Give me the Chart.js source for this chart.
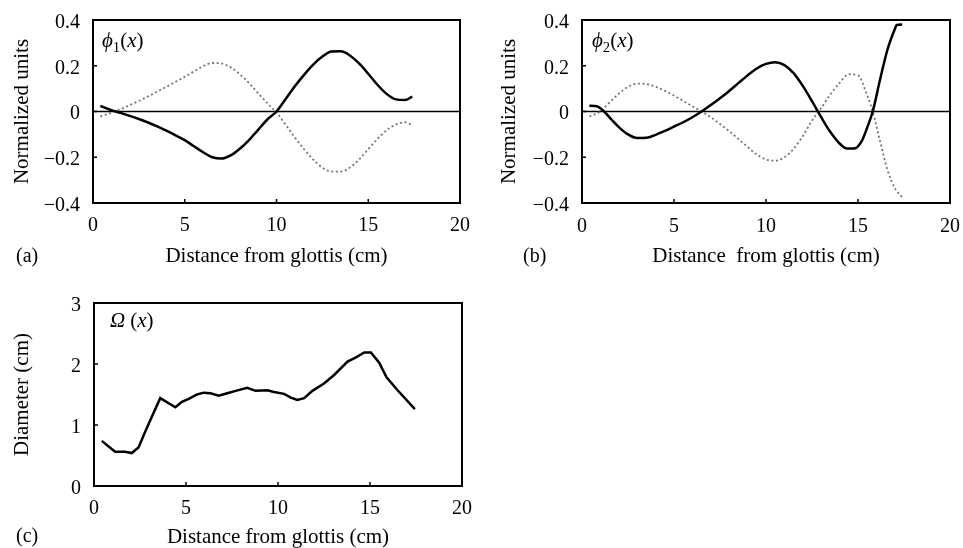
<!DOCTYPE html>
<html>
<head>
<meta charset="utf-8">
<script src="https://cdn.jsdelivr.net/npm/chart.js@4.4.1/dist/chart.umd.min.js"></script>
<style>
html,body{margin:0;padding:0;background:#fff;}
body{width:963px;height:548px;position:relative;overflow:hidden;}
canvas{position:absolute;}
</style>
</head>
<body>
<canvas id="ca" width="490" height="270" style="left:0;top:0"></canvas>
<canvas id="cb" width="500" height="270" style="left:480px;top:0"></canvas>
<canvas id="cc" width="490" height="278" style="left:0;top:270px"></canvas>
<script>
// x ticks shared by all panels
let xTicks = [0, 5, 10, 15, 20];
let xTickLabels = ["0", "5", "10", "15", "20"];
let phiTicks = [-0.4, -0.2, 0, 0.2, 0.4];
let phiTickLabels = ["\u22120.4", "\u22120.2", "0", "0.2", "0.4"];
let omegaTicks = [0, 1, 2, 3];
let omegaTickLabels = ["0", "1", "2", "3"];

// (a) phi1
let phi1X = [0.4, 1, 1.5, 2, 2.5, 3, 3.5, 4, 4.5, 5, 5.5, 6, 6.5, 7, 7.5, 8, 8.5, 9, 9.5, 10, 10.5, 11, 11.5, 12, 12.5, 13, 13.5, 14, 14.5, 15, 15.5, 16, 16.5, 17, 17.4];
let phi1Solid = [0.024, 0.006, -0.006, -0.019, -0.033, -0.048, -0.065, -0.084, -0.104, -0.125, -0.152, -0.178, -0.2, -0.206, -0.192, -0.163, -0.125, -0.08, -0.035, 0.0, 0.055, 0.11, 0.16, 0.205, 0.24, 0.262, 0.263, 0.245, 0.21, 0.165, 0.117, 0.077, 0.053, 0.05, 0.065];
let phi1Dot = [-0.022, -0.005, 0.01, 0.028, 0.046, 0.066, 0.087, 0.108, 0.13, 0.152, 0.175, 0.198, 0.212, 0.21, 0.193, 0.163, 0.124, 0.08, 0.037, -0.005, -0.058, -0.113, -0.165, -0.21, -0.245, -0.263, -0.263, -0.245, -0.21, -0.165, -0.12, -0.082, -0.057, -0.047, -0.06];

// (b) phi2
let phi2SolidX = [0.4, 0.8, 1.2, 1.6, 2, 2.5, 3, 3.5, 4, 4.5, 5, 5.5, 6, 6.5, 7, 7.5, 8, 8.5, 9, 9.5, 10, 10.5, 11, 11.5, 12, 12.5, 13, 13.5, 14, 14.4, 14.8, 15.2, 15.5, 15.8, 16.2, 16.6, 17, 17.1, 17.4];
let phi2Solid = [0.025, 0.023, 0.0, -0.035, -0.068, -0.1, -0.116, -0.115, -0.102, -0.085, -0.066, -0.047, -0.025, 0.0, 0.028, 0.058, 0.09, 0.124, 0.158, 0.188, 0.208, 0.215, 0.203, 0.168, 0.112, 0.045, -0.025, -0.09, -0.14, -0.162, -0.162, -0.13, -0.07, 0.0, 0.14, 0.27, 0.36, 0.378, 0.38];
let phi2DotX = [0.4, 1, 1.5, 2, 2.5, 3, 3.5, 4, 4.5, 5, 5.5, 6, 6.5, 7, 7.5, 8, 8.5, 9, 9.5, 10, 10.5, 11, 11.5, 12, 12.5, 13, 13.5, 14, 14.5, 15, 15.5, 15.8, 16.2, 16.6, 17, 17.4];
let phi2Dot = [-0.022, 0.0, 0.04, 0.078, 0.108, 0.122, 0.12, 0.108, 0.09, 0.07, 0.046, 0.023, 0.0, -0.025, -0.055, -0.086, -0.12, -0.155, -0.188, -0.21, -0.215, -0.2, -0.163, -0.108, -0.04, 0.015, 0.075, 0.125, 0.163, 0.158, 0.07, 0.0, -0.13, -0.255, -0.335, -0.375];

// (c) omega
let omegaX = [0.42, 1.15, 1.69, 2.05, 2.42, 2.78, 3.15, 3.6, 4.42, 4.78, 5.15, 5.6, 5.96, 6.33, 6.78, 7.24, 7.7, 8.33, 8.78, 9.42, 9.78, 10.33, 10.7, 11.05, 11.42, 11.87, 12.5, 13.05, 13.78, 14.24, 14.69, 15.05, 15.5, 15.9, 16.5, 17.44];
let omega = [0.74, 0.56, 0.56, 0.54, 0.63, 0.89, 1.14, 1.44, 1.29, 1.38, 1.43, 1.50, 1.53, 1.52, 1.48, 1.52, 1.56, 1.61, 1.56, 1.57, 1.54, 1.51, 1.45, 1.41, 1.44, 1.56, 1.68, 1.82, 2.04, 2.11, 2.19, 2.19, 2.02, 1.78, 1.57, 1.26];

const serif = '"Liberation Serif", "Times New Roman", serif';

function pts(xs, ys){
return xs.map((x, i) => ({x: x, y: ys[i]}));
}

function drawRich(ctx, x, y, parts, size){
parts.forEach(p => {
let s = p.sub ? size * 0.7 : size;
ctx.font = (p.it ? "italic " : "") + s + "px " + serif;
ctx.fillText(p.t, x, y + (p.sub ? size * 0.22 : 0));
x += ctx.measureText(p.t).width + (p.gap || 0);
});
}

// box, inner ticks, zero line, panel letter and curve name
const framePlugin = {
id: "frame",
beforeDatasetsDraw(chart, args, o){
if(!o.zero) return;
let a = chart.chartArea, y = chart.scales.y.getPixelForValue(0);
let ctx = chart.ctx;
ctx.save();
ctx.strokeStyle = "#000";
ctx.lineWidth = 1.5;
ctx.beginPath();
ctx.moveTo(a.left, y);
ctx.lineTo(a.right, y);
ctx.stroke();
ctx.restore();
},
afterDraw(chart, args, o){
let ctx = chart.ctx, a = chart.chartArea;
let sx = chart.scales.x, sy = chart.scales.y;
ctx.save();
ctx.strokeStyle = "#000";
ctx.lineWidth = 1.5;
ctx.beginPath();
xTicks.slice(1, -1).forEach(v => {
let px = sx.getPixelForValue(v);
ctx.moveTo(px, a.bottom);
ctx.lineTo(px, a.bottom - 4);
});
o.yTicks.slice(1, -1).forEach(v => {
let py = sy.getPixelForValue(v);
ctx.moveTo(a.left, py);
ctx.lineTo(a.left + 4, py);
});
ctx.stroke();
ctx.lineWidth = 2;
ctx.strokeRect(a.left, a.top, a.right - a.left, a.bottom - a.top);
ctx.fillStyle = "#000";
ctx.textBaseline = "middle";
ctx.textAlign = "left";
ctx.font = "20px " + serif;
ctx.fillText(o.letter, o.lx, o.ly);
ctx.textBaseline = "alphabetic";
drawRich(ctx, a.left + o.ax, a.top + o.ay, o.name, 21);
ctx.restore();
}
};

function makeChart(id, cfg){
let titleFont = {family: serif, size: 21, lineHeight: 1};
cfg.xh = 67;
cfg.yw = cfg.area.left;
let chart = new Chart(document.getElementById(id), {
type: "line",
data: {datasets: cfg.datasets},
plugins: [framePlugin],
options: {
responsive: false,
animation: false,
events: [],
layout: {padding: {top: cfg.area.top, right: 10, left: 0, bottom: 0}},
plugins: {
legend: {display: false},
tooltip: {enabled: false},
frame: cfg.frame
},
scales: {
x: {
type: "linear",
min: 0,
max: 20,
afterBuildTicks: s => { s.ticks = xTicks.map(v => ({value: v})); },
afterFit: s => { s.height = cfg.xh; },
grid: {display: false, drawTicks: false},
border: {display: false},
ticks: {
color: "#000",
font: {family: serif, size: 20},
padding: cfg.xpad,
maxRotation: 0,
callback: v => xTickLabels[xTicks.indexOf(v)]
},
title: {display: true, text: cfg.xTitle, color: "#000", font: titleFont, padding: {top: 0, bottom: cfg.xtp}}
},
y: {
type: "linear",
min: cfg.yTicks[0],
max: cfg.yTicks[cfg.yTicks.length - 1],
afterBuildTicks: s => { s.ticks = cfg.yTicks.map(v => ({value: v})); },
afterFit: s => { s.width = cfg.yw; },
grid: {display: false, drawTicks: false},
border: {display: false},
ticks: {
color: "#000",
// empty first line drops the label a few px, as in the figure
font: {family: serif, size: 20, lineHeight: 0.25},
padding: 13,
callback: (v, i) => ["", cfg.yLabels[i]]
},
title: {display: true, text: cfg.yTitle, color: "#000", font: titleFont, padding: {top: cfg.ytp, bottom: 0}}
}
}
}
});
// nudge the layout so the plot box lands where it sits in the figure
let pad = {top: cfg.area.top, right: 10};
for(let k = 0; k < 5; k++){
let a = chart.chartArea;
pad.top += cfg.area.top - a.top;
pad.right += a.right - cfg.area.right;
cfg.yw += cfg.area.left - a.left;
cfg.xh += a.bottom - cfg.area.bottom;
chart.options.layout.padding = {top: pad.top, right: pad.right, left: 0, bottom: 0};
chart.update();
}
return chart;
}

function solidSet(data, smooth){
return {data: data, borderColor: "#000", borderWidth: 2.5, pointRadius: 0, fill: false,
tension: smooth ? 0.4 : 0, cubicInterpolationMode: smooth ? "monotone" : "default", order: 1};
}
function dotSet(data){
return {data: data, borderColor: "#757575", borderWidth: 1.8, borderDash: [2, 2.6], pointRadius: 0, fill: false,
tension: 0.4, cubicInterpolationMode: "monotone", order: 2};
}

makeChart("ca", {
datasets: [solidSet(pts(phi1X, phi1Solid), true), dotSet(pts(phi1X, phi1Dot))],
area: {left: 93, top: 20, right: 460, bottom: 203},
xpad: 10.5, xtp: 3.5, ytp: 11.5,
yTicks: phiTicks, yLabels: phiTickLabels,
xTitle: "Distance from glottis (cm)", yTitle: "Normalized units",
frame: {zero: true, yTicks: phiTicks, letter: "(a)", lx: 16, ly: 257, ax: 9, ay: 27,
name: [{t: "\u03d5", it: true}, {t: "1", sub: true}, {t: "("}, {t: "x", it: true}, {t: ")"}]}
});

makeChart("cb", {
datasets: [solidSet(pts(phi2SolidX, phi2Solid), true), dotSet(pts(phi2DotX, phi2Dot))],
area: {left: 102, top: 20, right: 470, bottom: 203},
xpad: 12, xtp: 3.5, ytp: 18.5,
yTicks: phiTicks, yLabels: phiTickLabels,
xTitle: "Distance\u00a0 from glottis (cm)", yTitle: "Normalized units",
frame: {zero: true, yTicks: phiTicks, letter: "(b)", lx: 43, ly: 257, ax: 10, ay: 27,
name: [{t: "\u03d5", it: true}, {t: "2", sub: true}, {t: "("}, {t: "x", it: true}, {t: ")"}]}
});

makeChart("cc", {
datasets: [solidSet(pts(omegaX, omega), false)],
area: {left: 94, top: 33, right: 462, bottom: 216},
xpad: 11, xtp: 0.5, ytp: 11.5,
yTicks: omegaTicks, yLabels: omegaTickLabels,
xTitle: "Distance from glottis (cm)", yTitle: "Diameter (cm)",
frame: {zero: false, yTicks: omegaTicks, letter: "(c)", lx: 16, ly: 267, ax: 16, ay: 24,
name: [{t: "\u03a9", it: true, gap: 5}, {t: "("}, {t: "x", it: true}, {t: ")"}]}
});
</script>
</body>
</html>
